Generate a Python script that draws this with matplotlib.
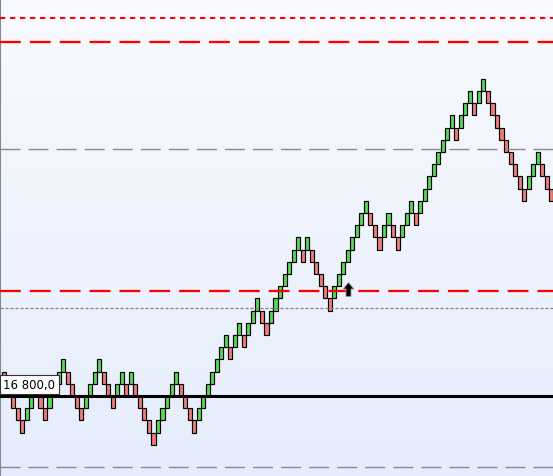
import matplotlib
matplotlib.use("Agg")
import matplotlib.pyplot as plt
import matplotlib.transforms as mtransforms
from matplotlib.path import Path
import numpy as np

plt.rcParams['lines.scale_dashes'] = False

# renko bricks (brick size 20), low price of each brick and its direction
brick_size = 20
brick_low = [16820, 16800, 16780, 16760, 16740, 16760, 16780, 16800, 16780, 16760,
             16780, 16800, 16820, 16840, 16820, 16800, 16780, 16760, 16780, 16800,
             16820, 16840, 16820, 16800, 16780, 16800, 16820, 16800, 16820, 16800,
             16780, 16760, 16740, 16720, 16740, 16760, 16780, 16800, 16820, 16800,
             16780, 16760, 16740, 16760, 16780, 16800, 16820, 16840, 16860, 16880,
             16860, 16880, 16900, 16880, 16900, 16920, 16940, 16920, 16900, 16920,
             16940, 16960, 16980, 17000, 17020, 17040, 17020, 17040, 17020, 17000,
             16980, 16960, 16940, 16960, 16980, 17000, 17020, 17040, 17060, 17080,
             17100, 17080, 17060, 17040, 17060, 17080, 17060, 17040, 17060, 17080,
             17100, 17080, 17100, 17120, 17140, 17160, 17180, 17200, 17220, 17240,
             17220, 17240, 17260, 17280, 17260, 17280, 17300, 17280, 17260, 17240,
             17220, 17200, 17180, 17160, 17140, 17120, 17140, 17160, 17180, 17160,
             17140, 17120]
brick_dir = ("DDDDDUUUDDUUUUDDDDUUUUDDDUUDUDDDDDUUUUUDDDDUUUUUUUDUUDUUUDDUUUUUUUDU"
             "DDDDDUUUUUUUUDDDUUDDUUUDUUUUUUUUDUUUDUUDDDDDDDDDUUUDDD")

# reference levels
last_price = 16800
red_dotted_level = 17420
red_dashed_levels = [17380, 16972]
grey_dashed_levels = [17205, 16684]
grey_dotted_level = 16944

# buy signal
signal_x = 76
signal_price = 16976

fig = plt.figure(figsize=(5.53, 4.77), dpi=100)
ax = fig.add_axes([0, 0, 1, 1])

x = np.arange(len(brick_low))
colors = ['#55DA55' if d == 'U' else '#F07C7C' for d in brick_dir]
ax.bar(x, brick_size, bottom=brick_low, width=0.9, color=colors,
       edgecolor='black', linewidth=0.85, zorder=2)

ax.set_xlim(-0.958, 121.39)
ax.set_ylim(16668.9, 17450.8)

# background gradient
grad = np.linspace(0, 1, 256).reshape(-1, 1)
top = np.array([248, 250, 255]) / 255
bottom = np.array([229, 236, 251]) / 255
img = bottom + (top - bottom) * grad[..., None]
ax.imshow(img, extent=[0, 1, 0, 1], transform=ax.transAxes, origin='lower',
          aspect='auto', zorder=0)

# horizontal levels
ax.axhline(red_dotted_level, color='#FF0000', lw=1.5, dashes=(3.8, 3.4), zorder=3)
for lvl in red_dashed_levels:
    ax.axhline(lvl, color='#FF0000', lw=1.65, dashes=(15, 6.5), zorder=3)
for lvl in grey_dashed_levels:
    ax.axhline(lvl, color='#8A8A8A', lw=1.0, dashes=(14.4, 5.8), zorder=3)
ax.axhline(grey_dotted_level, color='#808080', lw=0.9, dashes=(2.2, 1.4), zorder=3)
ax.axhline(last_price, color='black', lw=2.2, zorder=3)

# arrow signal
arrow = Path([(0, 7), (5.5, 0.5), (2.5, 0.5), (2.5, -7), (-2.5, -7),
              (-2.5, 0.5), (-5.5, 0.5), (0, 7)], closed=True)
ax.plot(signal_x, signal_price, marker=arrow, ms=10, color='black',
        markeredgecolor='#9A9A9A', markeredgewidth=0.6, zorder=4)

# price label
trans = mtransforms.blended_transform_factory(ax.transAxes, ax.transData)
ax.text(0.006, last_price + 8, "16 800,0", transform=trans, fontsize=8.5,
        va='bottom', ha='left', color='black', zorder=5,
        bbox=dict(boxstyle='square,pad=0.28', fc='white', ec='#333333', lw=0.8))

for s in ['top', 'right', 'bottom']:
    ax.spines[s].set_visible(False)
ax.spines['left'].set_color('#7D8B98')
ax.spines['left'].set_linewidth(1.5)
ax.set_xticks([])
ax.set_yticks([])

fig.savefig("out.png", dpi=100)
